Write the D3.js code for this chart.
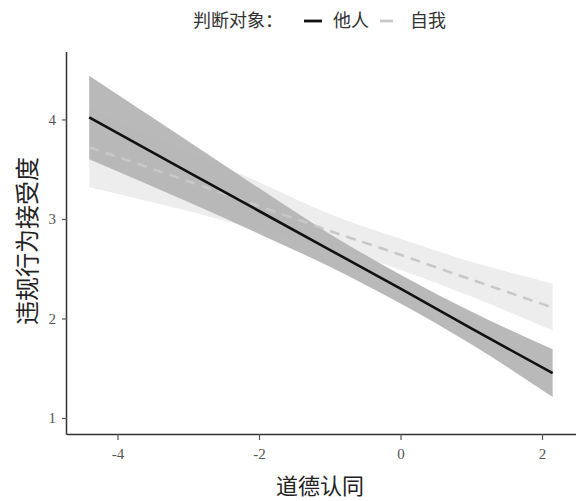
<!DOCTYPE html>
<html><head><meta charset="utf-8">
<script src="https://cdn.jsdelivr.net/npm/d3@7"></script>
<style>body{margin:0;background:#fff}svg{display:block}</style>
</head><body>
<svg id="c" width="576" height="501"></svg>
<script>
// data
const xPts = [-4.4, -3, -2, -1, 0, 1, 2.15];
const otherFit   = [4.02, 3.47, 3.08, 2.69, 2.30, 1.90, 1.45];
const otherLower = [3.60, 3.17, 2.85, 2.52, 2.15, 1.74, 1.21];
const otherUpper = [4.44, 3.78, 3.31, 2.85, 2.44, 2.07, 1.69];
const selfFit    = [3.72, 3.38, 3.13, 2.88, 2.64, 2.39, 2.11];
const selfLower  = [3.32, 3.08, 2.89, 2.72, 2.49, 2.22, 1.88];
const selfUpper  = [4.12, 3.68, 3.37, 3.05, 2.80, 2.57, 2.35];
const xTicks = [-4, -2, 0, 2];
const yTicks = [1, 2, 3, 4];
const legendTitle = "判断对象：";
const seriesNames = ["他人", "自我"];
const xTitle = "道德认同";
const yTitle = "违规行为接受度";

const svg = d3.select("#c");
const x = d3.scaleLinear().domain([-4.714, 2.48]).range([67, 576]);
const y = d3.scaleLinear().domain([0.839, 4.678]).range([434, 52]);

const mk = (f, lo, hi) => xPts.map((v, i) => ({x: v, f: f[i], lo: lo[i], hi: hi[i]}));
const other = mk(otherFit, otherLower, otherUpper);
const self = mk(selfFit, selfLower, selfUpper);

const area = d3.area().x(d => x(d.x)).y0(d => y(d.lo)).y1(d => y(d.hi)).curve(d3.curveMonotoneX);
const line = d3.line().x(d => x(d.x)).y(d => y(d.f));

svg.append("path").datum(self).attr("d", area).attr("fill", "#ededed");
svg.append("path").datum(other).attr("d", area).attr("fill", "#b5b5b5").attr("fill-opacity", 0.95);
svg.append("path").datum(self).attr("d", line).attr("fill", "none")
  .attr("stroke", "#c8c8c8").attr("stroke-width", 2.6).attr("stroke-dasharray", "10,7");
svg.append("path").datum(other).attr("d", line).attr("fill", "none")
  .attr("stroke", "#111").attr("stroke-width", 2.6);

// axes
const fmt = d => String(d);
const xAxis = svg.append("g").attr("transform", "translate(0,434)")
  .call(d3.axisBottom(x).tickValues(xTicks).tickSize(6).tickPadding(8).tickFormat(fmt));
const yAxis = svg.append("g").attr("transform", "translate(67,0)")
  .call(d3.axisLeft(y).tickValues(yTicks).tickSize(5).tickPadding(6).tickFormat(fmt));
[xAxis, yAxis].forEach(g => {
  g.select(".domain").attr("stroke", "#333").attr("stroke-width", 1.5);
  g.selectAll(".tick line").attr("stroke", "#555").attr("stroke-width", 1.2);
  g.selectAll(".tick text").attr("fill", "#555").style("font-family", "'Liberation Serif', serif").style("font-size", "15px");
});
xAxis.select(".domain").attr("d", "M67,0.5H576");
yAxis.select(".domain").attr("d", "M-0.5,52V434.75");

// titles
svg.append("text").attr("x", 320).attr("y", 494).attr("text-anchor", "middle")
  .style("font-family", "'Noto Sans CJK SC'").style("font-size", "22px").attr("fill", "#222").text(xTitle);
svg.append("text").attr("transform", "translate(36,241) rotate(-90)").attr("text-anchor", "middle")
  .style("font-family", "'Noto Sans CJK SC'").style("font-size", "24px").attr("fill", "#222").text(yTitle);

// legend
const lg = svg.append("g").style("font-family", "'Noto Sans CJK SC'").style("font-size", "18px").attr("fill", "#333");
lg.append("text").attr("x", 193).attr("y", 27).text(legendTitle);
lg.append("line").attr("x1", 304).attr("x2", 322).attr("y1", 21).attr("y2", 21).attr("stroke", "#111").attr("stroke-width", 2.8);
lg.append("text").attr("x", 333).attr("y", 27).text(seriesNames[0]);
lg.append("line").attr("x1", 380).attr("x2", 398).attr("y1", 21).attr("y2", 21).attr("stroke", "#c8c8c8").attr("stroke-width", 2.8).attr("stroke-dasharray", "13,7");
lg.append("text").attr("x", 410).attr("y", 27).text(seriesNames[1]);
</script>
</body></html>
